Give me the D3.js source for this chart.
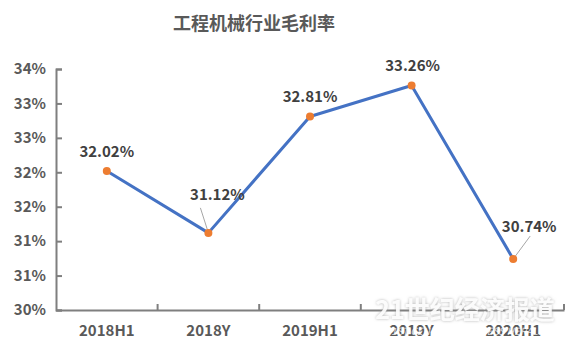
<!DOCTYPE html>
<html>
<head>
<meta charset="utf-8">
<script src="https://cdn.jsdelivr.net/npm/d3@7"></script>
<style>
    body { margin: 0; background: #fff; }
    svg text { font-family: "Noto Sans CJK SC", "Noto Sans", sans-serif; }
</style>
</head>
<body>
<svg id="chart" width="576" height="351"></svg>
<script>
const categories = ["2018H1", "2018Y", "2019H1", "2019Y", "2020H1"];
const margins = [32.02, 31.12, 32.81, 33.26, 30.74];
const yTicks = [30, 30.5, 31, 31.5, 32, 32.5, 33, 33.5];
// where each data label sits relative to its point
const labelOffsets = [[0, -14], [9, -33], [0, -15], [1, -15], [16, -27]];
// start of the leader lines, relative to the point
const leaderStarts = [null, [-8, -25], null, null, [17, -23]];

let svg = d3.select("#chart");

let x = d3.scaleBand().domain(categories).range([56, 564]);
let y = d3.scaleLinear().domain([30, 33.5]).range([310, 69]);
let cx = d => x(d) + x.bandwidth() / 2;

svg.append("text")
    .attr("x", 254)
    .attr("y", 30)
    .attr("text-anchor", "middle")
    .attr("font-size", 18)
    .attr("font-weight", "bold")
    .attr("fill", "#595959")
    .text("工程机械行业毛利率");

// y axis, ticks pointing into the plot
let yAxis = svg.append("g")
    .attr("transform", "translate(56,0)")
    .call(d3.axisRight(y).tickValues(yTicks).tickSize(6)
        .tickFormat(d => Math.round(d) + "%"));
yAxis.select(".domain").attr("stroke", "#7f7f7f").attr("stroke-width", 2);
yAxis.selectAll(".tick line").attr("stroke", "#7f7f7f").attr("stroke-width", 2);
yAxis.selectAll(".tick text")
    .attr("x", -10)
    .attr("text-anchor", "end")
    .attr("font-size", 15)
    .attr("font-weight", "bold")
    .attr("fill", "#595959");

let xAxis = svg.append("g")
    .attr("transform", "translate(0,310)")
    .call(d3.axisTop(x).tickSize(0).tickFormat(""));
xAxis.select(".domain").attr("stroke", "#7f7f7f").attr("stroke-width", 2);
xAxis.selectAll(".tick").remove();

// tick marks on category boundaries
xAxis.selectAll("line.sep")
    .data(categories)
    .enter().append("line")
    .attr("class", "sep")
    .attr("x1", d => x(d) + x.bandwidth())
    .attr("x2", d => x(d) + x.bandwidth())
    .attr("y1", 0)
    .attr("y2", -6)
    .attr("stroke", "#7f7f7f")
    .attr("stroke-width", 2);

svg.append("g").selectAll("text")
    .data(categories)
    .enter().append("text")
    .attr("x", d => cx(d))
    .attr("y", 336)
    .attr("text-anchor", "middle")
    .attr("font-size", 15)
    .attr("font-weight", "bold")
    .attr("fill", "#595959")
    .text(d => d);

let line = d3.line()
    .x((d, i) => cx(categories[i]))
    .y(d => y(d));

svg.append("path")
    .datum(margins)
    .attr("d", line)
    .attr("fill", "none")
    .attr("stroke", "#4472c4")
    .attr("stroke-width", 3)
    .attr("stroke-linejoin", "round");

// leader lines for labels pushed away from the point
leaderStarts.forEach(function (s, i) {
    if (!s) return;
    let px = cx(categories[i]), py = y(margins[i]);
    svg.append("line")
        .attr("x1", px + s[0]).attr("y1", py + s[1])
        .attr("x2", px).attr("y2", py)
        .attr("stroke", "#a6a6a6")
        .attr("stroke-width", 1);
});

svg.append("g").selectAll("circle")
    .data(margins)
    .enter().append("circle")
    .attr("cx", (d, i) => cx(categories[i]))
    .attr("cy", d => y(d))
    .attr("r", 4)
    .attr("fill", "#ed7d31");

svg.append("g").selectAll("text")
    .data(margins)
    .enter().append("text")
    .attr("x", (d, i) => cx(categories[i]) + labelOffsets[i][0])
    .attr("y", (d, i) => y(d) + labelOffsets[i][1])
    .attr("text-anchor", "middle")
    .attr("font-size", 15)
    .attr("font-weight", "bold")
    .attr("fill", "#404040")
    .text(d => d.toFixed(2) + "%");

// watermark
let defs = svg.append("defs");
defs.append("filter").attr("id", "halo")
    .append("feDropShadow")
    .attr("dx", 0).attr("dy", 0).attr("stdDeviation", 1.5)
    .attr("flood-color", "#999").attr("flood-opacity", 0.8);

svg.append("text")
    .attr("x", 465)
    .attr("y", 319)
    .attr("text-anchor", "middle")
    .attr("font-size", 25)
    .attr("font-weight", "bold")
    .attr("fill", "#fff")
    .attr("fill-opacity", 0.9)
    .attr("filter", "url(#halo)")
    .text("21世纪经济报道");

svg.append("text")
    .attr("x", 465)
    .attr("y", 335)
    .attr("text-anchor", "middle")
    .attr("font-size", 10)
    .attr("font-style", "italic")
    .attr("fill", "#fff")
    .attr("fill-opacity", 0.8)
    .text("21ST CENTURY BUSINESS HERALD");
</script>
</body>
</html>
